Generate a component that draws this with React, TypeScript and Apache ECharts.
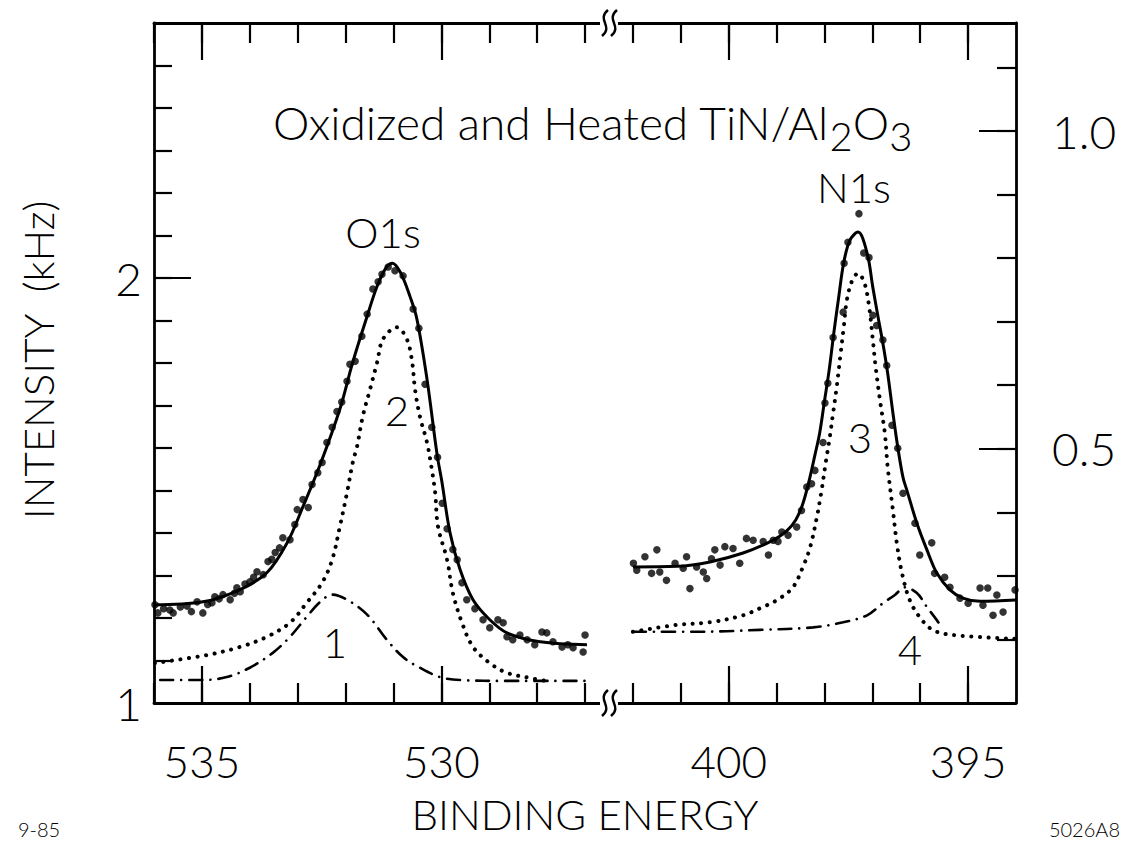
import React, { useEffect, useRef } from "react";
import * as echarts from "echarts";

// ---------- O1s panel (left): binding energy (eV) vs intensity (kHz, left axis) ----------
const O1S_X_TICKS = [536, 535, 534, 533, 532, 531, 530, 529, 528, 527];
const O1S_X_LABELS = [535, 530];
const O1S_Y_TICKS = [1.1, 1.2, 1.3, 1.4, 1.5, 1.6, 1.7, 1.8, 1.9, 2.0, 2.1, 2.2, 2.3, 2.4, 2.5];
const O1S_Y_LABELS = [1, 2];
const O1S_Y_LONG = [2];

const O1S_DATA: [number, number][] = [
  [535.98, 1.231], [535.92, 1.212], [535.8, 1.222], [535.67, 1.219], [535.6, 1.212], [535.45, 1.226],
  [535.31, 1.228], [535.22, 1.215], [535.1, 1.238], [534.98, 1.212], [534.88, 1.232], [534.79, 1.236],
  [534.73, 1.25], [534.64, 1.245], [534.56, 1.255], [534.41, 1.243], [534.32, 1.258], [534.27, 1.271],
  [534.2, 1.262], [534.1, 1.28], [534.0, 1.285], [533.92, 1.296], [533.85, 1.309], [533.72, 1.302],
  [533.62, 1.333], [533.54, 1.338], [533.47, 1.354], [533.38, 1.365], [533.31, 1.389], [533.16, 1.384],
  [533.06, 1.42], [533.01, 1.455], [532.89, 1.479], [532.78, 1.46], [532.7, 1.514], [532.58, 1.542],
  [532.49, 1.566], [532.39, 1.613], [532.28, 1.649], [532.18, 1.686], [532.08, 1.708], [531.97, 1.757],
  [531.91, 1.797], [531.8, 1.804], [531.66, 1.863], [531.55, 1.915], [531.43, 1.974], [531.32, 1.991],
  [531.24, 2.009], [531.11, 2.026], [530.97, 2.017], [530.8, 2.005], [530.59, 1.927], [530.47, 1.882],
  [530.34, 1.75], [530.2, 1.649], [530.08, 1.578], [529.98, 1.47], [529.88, 1.41], [529.76, 1.361],
  [529.67, 1.337], [529.57, 1.283], [529.47, 1.243], [529.3, 1.222], [529.13, 1.196], [528.99, 1.177],
  [528.82, 1.196], [528.71, 1.189], [528.63, 1.156], [528.51, 1.149], [528.36, 1.16], [528.21, 1.149],
  [528.05, 1.137], [527.9, 1.167], [527.8, 1.165], [527.67, 1.144], [527.48, 1.132], [527.36, 1.137],
  [527.25, 1.13], [527.04, 1.12], [527.0, 1.16],
];

const O1S_FIT: [number, number][] = [
  [536.0, 1.231], [534.98, 1.238], [534.2, 1.267], [533.64, 1.307], [533.22, 1.377], [532.89, 1.462],
  [532.53, 1.561], [532.12, 1.691], [531.85, 1.802], [531.55, 1.91], [531.34, 1.981], [531.15, 2.025],
  [531.02, 2.035], [530.85, 2.012], [530.65, 1.955], [530.51, 1.903], [530.3, 1.762], [530.09, 1.585],
  [529.99, 1.521], [529.82, 1.401], [529.61, 1.314], [529.34, 1.243], [528.99, 1.196], [528.63, 1.165],
  [527.94, 1.144], [526.96, 1.137],
];

// component 2 (dotted)
const O1S_PEAK2: [number, number][] = [
  [535.98, 1.094], [534.89, 1.113], [534.2, 1.132], [533.64, 1.156], [533.16, 1.189], [532.81, 1.236],
  [532.49, 1.283], [532.28, 1.337], [532.12, 1.415], [531.97, 1.495], [531.85, 1.566], [531.76, 1.604],
  [531.64, 1.675], [531.49, 1.738], [531.34, 1.802], [531.22, 1.856], [530.93, 1.884], [530.72, 1.856],
  [530.61, 1.802], [530.55, 1.738], [530.45, 1.675], [530.3, 1.613], [530.2, 1.55], [530.13, 1.495],
  [530.07, 1.415], [529.88, 1.337], [529.76, 1.259], [529.57, 1.189], [529.34, 1.132], [528.99, 1.094],
  [528.63, 1.071], [528.15, 1.059], [527.73, 1.05],
];

// component 1 (dash-dot)
const O1S_PEAK1: [number, number][] = [
  [535.87, 1.054], [534.98, 1.054], [534.48, 1.061], [534.0, 1.083], [533.52, 1.118], [533.16, 1.156],
  [532.81, 1.203], [532.53, 1.238], [532.28, 1.255], [531.97, 1.243], [531.55, 1.208], [531.14, 1.149],
  [530.8, 1.108], [530.45, 1.083], [530.03, 1.061], [529.61, 1.054], [528.63, 1.052], [527.0, 1.052],
];

// ---------- N1s panel (right): binding energy (eV) vs intensity (right axis) ----------
const N1S_X_TICKS = [402, 401, 400, 399, 398, 397, 396, 395];
const N1S_X_LABELS = [400, 395];
const N1S_Y_TICKS = [0.2, 0.3, 0.4, 0.5, 0.6, 0.7, 0.8, 0.9, 1.0, 1.1];
const N1S_Y_LABELS = [0.5, 1.0];

const N1S_DATA: [number, number][] = [
  [401.99, 0.32], [401.92, 0.309], [401.75, 0.33], [401.61, 0.304], [401.5, 0.341], [401.44, 0.306],
  [401.3, 0.293], [401.12, 0.32], [400.95, 0.312], [400.88, 0.33], [400.81, 0.28], [400.67, 0.314],
  [400.53, 0.306], [400.46, 0.296], [400.36, 0.327], [400.29, 0.341], [400.18, 0.317], [400.08, 0.346],
  [399.91, 0.343], [399.77, 0.32], [399.63, 0.359], [399.49, 0.356], [399.28, 0.354], [399.17, 0.333],
  [399.07, 0.356], [398.97, 0.354], [398.89, 0.369], [398.76, 0.364], [398.58, 0.377], [398.48, 0.403],
  [398.37, 0.44], [398.27, 0.445], [398.2, 0.466], [398.03, 0.51], [397.99, 0.572], [397.93, 0.603],
  [397.82, 0.675], [397.61, 0.715], [397.59, 0.792], [397.51, 0.825], [397.28, 0.87], [397.18, 0.808],
  [397.07, 0.801], [396.99, 0.71], [396.91, 0.694], [396.78, 0.671], [396.7, 0.631], [396.59, 0.537],
  [396.47, 0.501], [396.36, 0.43], [396.11, 0.383], [396.01, 0.333], [395.76, 0.352], [395.7, 0.304],
  [395.49, 0.298], [395.38, 0.282], [395.17, 0.265], [395.0, 0.257], [394.75, 0.281], [394.69, 0.254],
  [394.59, 0.281], [394.48, 0.238], [394.4, 0.27], [394.27, 0.243], [394.02, 0.278],
];

const N1S_FIT: [number, number][] = [
  [402.0, 0.314], [401.08, 0.315], [400.39, 0.322], [399.7, 0.336], [399.1, 0.355], [398.8, 0.37],
  [398.6, 0.388], [398.45, 0.414], [398.32, 0.45], [398.2, 0.49], [398.1, 0.525], [398.0, 0.575],
  [397.9, 0.625], [397.8, 0.685], [397.7, 0.74], [397.6, 0.792], [397.47, 0.828], [397.3, 0.841],
  [397.11, 0.808], [396.99, 0.754], [396.88, 0.707], [396.78, 0.666], [396.68, 0.619], [396.57, 0.556],
  [396.47, 0.503], [396.36, 0.455], [396.28, 0.435], [396.07, 0.383], [395.86, 0.341], [395.65, 0.304],
  [395.38, 0.278], [395.11, 0.265], [394.75, 0.26], [394.0, 0.262],
];

// component 3 (dotted)
const N1S_PEAK3: [number, number][] = [
  [402.0, 0.212], [401.08, 0.223], [400.39, 0.227], [399.7, 0.238], [399.35, 0.249], [398.99, 0.262],
  [398.66, 0.282], [398.45, 0.314], [398.3, 0.345], [398.16, 0.392], [398.07, 0.43], [397.97, 0.48],
  [397.89, 0.518], [397.82, 0.556], [397.74, 0.6], [397.67, 0.645], [397.6, 0.69], [397.53, 0.735],
  [397.42, 0.765], [397.3, 0.776], [397.17, 0.762], [397.07, 0.725], [396.99, 0.671], [396.93, 0.628],
  [396.84, 0.576], [396.74, 0.525], [396.68, 0.471], [396.57, 0.403], [396.49, 0.352], [396.38, 0.304],
  [396.22, 0.262], [396.01, 0.235], [395.74, 0.215], [395.32, 0.207], [394.02, 0.201],
];

// component 4 (dash-dot)
const N1S_PEAK4: [number, number][] = [
  [402.0, 0.212], [400.75, 0.212], [399.35, 0.215], [398.24, 0.219], [397.61, 0.227], [397.11, 0.238],
  [396.78, 0.257], [396.53, 0.27], [396.32, 0.282], [396.07, 0.273], [395.86, 0.251], [395.65, 0.23],
  [395.55, 0.219],
];

const FONT = "Lato, 'Open Sans', 'DejaVu Sans', sans-serif";
const FW = 300;
const BLACK = "#000";

function xAxes(grid: number, min: number, max: number, inverse: boolean, ticks: number[], labels: number[], conv: (v: number) => number) {
  const common = {
    type: "value" as const,
    gridIndex: grid,
    min,
    max,
    inverse,
    splitLine: { show: false },
  };
  const mainLine = { show: true, onZero: false, lineStyle: { color: BLACK, width: 2.8 } };
  const shortTick = { show: true, inside: true, length: 20, customValues: ticks.map(conv), lineStyle: { color: BLACK, width: 2.2 } };
  const longTick = { show: true, inside: true, length: 37, customValues: labels.map(conv), lineStyle: { color: BLACK, width: 2.2 } };
  return [
    {
      ...common,
      position: "bottom",
      axisLine: mainLine,
      axisTick: shortTick,
      axisLabel: {
        show: true,
        customValues: labels.map(conv),
        formatter: (v: number) => String(Math.round(Math.abs(v))),
        color: BLACK,
        fontSize: 44,
        fontWeight: FW,
        fontFamily: FONT,
        margin: 36,
      },
    },
    { ...common, position: "top", axisLine: mainLine, axisTick: shortTick, axisLabel: { show: false } },
    { ...common, position: "bottom", axisLine: { show: false, onZero: false }, axisTick: longTick, axisLabel: { show: false } },
    { ...common, position: "top", axisLine: { show: false, onZero: false }, axisTick: longTick, axisLabel: { show: false } },
  ];
}

function squiggle(cx: number, cy: number) {
  const mk = (x: number) => ({
    type: "bezierCurve",
    shape: { x1: x + 3, y1: cy - 13, x2: x - 3, y2: cy + 13, cpx1: x - 9, cpy1: cy - 3, cpx2: x + 9, cpy2: cy + 3 },
    style: { stroke: BLACK, lineWidth: 2.4, fill: null },
    z: 120,
  });
  return [
    { type: "rect", shape: { x: cx - 9, y: cy - 4, width: 18, height: 8 }, style: { fill: "#fff" }, z: 110 },
    mk(cx - 4),
    mk(cx + 5),
  ];
}

function label(text: string, x: number, y: number, size = 42, extra: any = {}) {
  return {
    type: "text",
    x,
    y,
    z: 100,
    style: {
      text,
      fill: BLACK,
      fontSize: size,
      fontWeight: FW,
      fontFamily: FONT,
      align: "center",
      verticalAlign: "middle",
      ...extra,
    },
  };
}

export default function App() {
  const ref = useRef<HTMLDivElement>(null);

  useEffect(() => {
    if (!ref.current) return;
    const chart = echarts.init(ref.current, null, { renderer: "svg" });
    const negE = (v: number) => -v;
    const id = (v: number) => v;

    const lineCommon = { showSymbol: false, smooth: 0.35, silent: true };
    const dashDot = { color: BLACK, width: 2.6, type: [13, 8, 0.1, 8], cap: "round" };
    const dotted = { color: BLACK, width: 4, type: [0.1, 8.5], cap: "round" };
    const solid = { color: BLACK, width: 3 };

    const option: any = {
      animation: false,
      backgroundColor: "#fff",
      grid: [
        { left: 154, top: 23, width: 455, height: 680 },
        { left: 609, top: 23, width: 407, height: 680 },
      ],
      xAxis: [
        ...xAxes(0, -536, -526.5, false, O1S_X_TICKS, O1S_X_LABELS, negE),
        ...xAxes(1, 394, 402.5, true, N1S_X_TICKS, N1S_X_LABELS, id),
      ],
      yAxis: [
        {
          type: "value",
          gridIndex: 0,
          position: "left",
          min: 1,
          max: 2.6,
          splitLine: { show: false },
          axisLine: { show: true, onZero: false, lineStyle: { color: BLACK, width: 2.8 } },
          axisTick: { show: true, inside: true, length: 18, customValues: O1S_Y_TICKS, lineStyle: { color: BLACK, width: 2.2 } },
          axisLabel: {
            show: true,
            customValues: O1S_Y_LABELS,
            formatter: (v: number) => String(Math.round(v)),
            color: BLACK,
            fontSize: 46,
            fontWeight: FW,
            fontFamily: FONT,
            margin: 12,
          },
        },
        {
          type: "value",
          gridIndex: 0,
          position: "left",
          min: 1,
          max: 2.6,
          splitLine: { show: false },
          axisLine: { show: false, onZero: false },
          axisTick: { show: true, inside: true, length: 37, customValues: O1S_Y_LONG, lineStyle: { color: BLACK, width: 2.2 } },
          axisLabel: { show: false },
        },
        {
          type: "value",
          gridIndex: 1,
          position: "right",
          min: 0.1,
          max: 1.17,
          splitLine: { show: false },
          axisLine: { show: true, onZero: false, lineStyle: { color: BLACK, width: 2.8 } },
          axisTick: { show: true, inside: true, length: 19, customValues: N1S_Y_TICKS, lineStyle: { color: BLACK, width: 2.2 } },
          axisLabel: {
            show: true,
            customValues: N1S_Y_LABELS,
            formatter: (v: number) => v.toFixed(1),
            color: BLACK,
            fontSize: 46,
            fontWeight: FW,
            fontFamily: FONT,
            margin: 36,
          },
        },
        {
          type: "value",
          gridIndex: 1,
          position: "right",
          min: 0.1,
          max: 1.17,
          splitLine: { show: false },
          axisLine: { show: false, onZero: false },
          axisTick: { show: true, inside: true, length: 37, customValues: N1S_Y_LABELS, lineStyle: { color: BLACK, width: 2.2 } },
          axisLabel: { show: false },
        },
      ],
      series: [
        { type: "line", xAxisIndex: 0, yAxisIndex: 0, data: O1S_PEAK1.map(([e, v]) => [-e, v]), ...lineCommon, lineStyle: dashDot, z: 2 },
        { type: "line", xAxisIndex: 0, yAxisIndex: 0, data: O1S_PEAK2.map(([e, v]) => [-e, v]), ...lineCommon, lineStyle: dotted, z: 2 },
        { type: "line", xAxisIndex: 0, yAxisIndex: 0, data: O1S_FIT.map(([e, v]) => [-e, v]), ...lineCommon, lineStyle: solid, z: 3 },
        {
          type: "scatter", xAxisIndex: 0, yAxisIndex: 0, data: O1S_DATA.map(([e, v]) => [-e, v]),
          symbolSize: 7.5, itemStyle: { color: BLACK }, z: 4, silent: true,
        },
        { type: "line", xAxisIndex: 4, yAxisIndex: 2, data: N1S_PEAK4, ...lineCommon, lineStyle: dashDot, z: 2 },
        { type: "line", xAxisIndex: 4, yAxisIndex: 2, data: N1S_PEAK3, ...lineCommon, lineStyle: dotted, z: 2 },
        { type: "line", xAxisIndex: 4, yAxisIndex: 2, data: N1S_FIT, ...lineCommon, lineStyle: solid, z: 3 },
        {
          type: "scatter", xAxisIndex: 4, yAxisIndex: 2, data: N1S_DATA,
          symbolSize: 7.5, itemStyle: { color: BLACK }, z: 4, silent: true,
        },
      ],
      graphic: [
        ...squiggle(609, 23),
        ...squiggle(609, 703),
        {
          type: "text",
          x: 273,
          y: 122,
          z: 100,
          style: {
            text: "{m|Oxidized and Heated TiN/Al}{s|2}{m|O}{s|3}",
            fill: BLACK,
            align: "left",
            verticalAlign: "middle",
            rich: {
              m: { fontSize: 46, fontWeight: FW, fontFamily: FONT, fill: BLACK },
              s: { fontSize: 40, fontWeight: FW, fontFamily: FONT, fill: BLACK, padding: [28, 0, 0, 0] },
            },
          },
        },
        label("O1s", 383, 232),
        label("N1s", 854, 187),
        label("1", 335, 642),
        label("2", 397, 410),
        label("3", 860, 437),
        label("4", 910, 649),
        {
          type: "text",
          x: 38,
          y: 360,
          rotation: Math.PI / 2,
          z: 100,
          style: {
            text: "INTENSITY  (kHz)",
            fill: BLACK,
            fontSize: 42,
            fontWeight: FW,
            fontFamily: FONT,
            align: "center",
            verticalAlign: "middle",
          },
        },
        label("BINDING ENERGY", 585, 814, 42),
        label("9-85", 18, 829, 20, { align: "left" }),
        label("5026A8", 1120, 829, 20, { align: "right" }),
      ],
    };

    chart.setOption(option);
    return () => chart.dispose();
  }, []);

  return (
    <div
      ref={ref}
      style={{ position: "absolute", left: 0, top: 0, width: 1124, height: 841, background: "#fff" }}
    />
  );
}
